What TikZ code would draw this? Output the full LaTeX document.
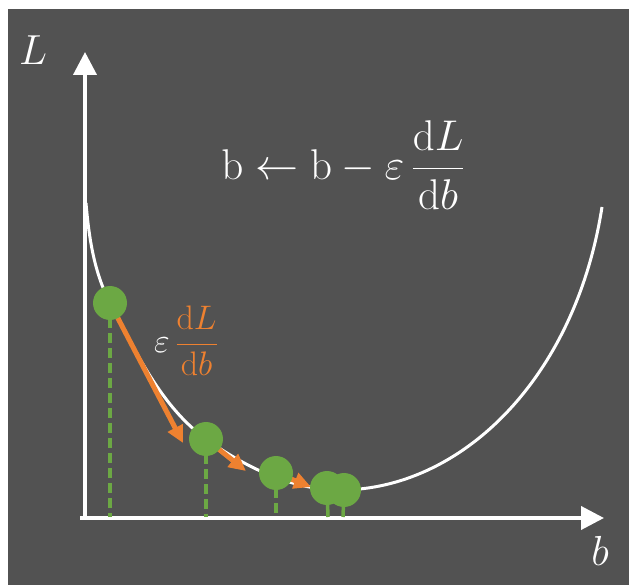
\RequirePackage{fix-cm}
\documentclass[tikz,border=0pt]{standalone}
\usepackage{amsmath}
\usetikzlibrary{arrows.meta}
\definecolor{bgdark}{HTML}{525252}
\definecolor{ballgreen}{HTML}{6CA844}
\definecolor{steporange}{HTML}{EE8130}
\tikzset{
  axisline/.style={white, line width=4pt, -{Triangle[length=23pt,width=23pt]}},
  losscurve/.style={white, line width=3pt},
  ball/.style={circle, fill=ballgreen, minimum size=34pt, inner sep=0pt},
  dropline/.style={ballgreen, line width=3.5pt, dash pattern=on 10pt off 5pt},
  stepline/.style={steporange, line width=5pt, -{Triangle[length=17pt,width=16pt]}},
  lbl/.style={white, inner sep=0pt}
}
\begin{document}
\begin{tikzpicture}[x=1pt,y=-1pt]
\useasboundingbox (0,0) rectangle (638,585);
\fill[white] (0,0) rectangle (638,585);
\fill[bgdark] (8,9) rectangle (629,585);

% axes
\coordinate (o) at (85,518);
\coordinate (yend) at (85,52);
\coordinate (xstart) at (80,518);
\coordinate (xend) at (604,518);
\draw[axisline] (o) -- (yend);
\draw[axisline] (xstart) -- (xend);
\node[lbl, font=\fontsize{42}{44}\selectfont] (Llab) at (33,50) {$L$};
\node[lbl, font=\fontsize{42}{44}\selectfont] (blab) at (600,551) {$b$};

% loss curve
\draw[losscurve] (86,203) .. controls (89,238) and (94,272) .. (110,303)
  .. controls (135.6,351.6) and (161.4,406.9) .. (206,439)
  .. controls (244.9,467) and (292,490) .. (340,490)
  .. controls (460,490) and (575,380) .. (602,207);

% ball centres and feet
\coordinate (c1) at (110,303);
\coordinate (c2) at (206,439);
\coordinate (c3) at (276,473);
\coordinate (c4) at (327,488);
\coordinate (c5) at (344,490);
\coordinate (f1) at (110,517);
\coordinate (f2) at (206,517);
\coordinate (f3) at (276,517);
\coordinate (f4) at (328,517);
\coordinate (f5) at (343,517);
\coordinate (t1) at (183,443);
\coordinate (t2) at (246,471);
\coordinate (t3) at (311,487);

\draw[dropline] (c1) -- (f1);
\draw[dropline] (c2) -- (f2);
\draw[dropline] (c3) -- (f3);
\draw[ballgreen, line width=3.5pt] (c4) -- (f4);
\draw[ballgreen, line width=3.5pt] (c5) -- (f5);

\draw[stepline] (c1) -- (t1);
\draw[stepline] (c2) -- (t2);
\draw[stepline] (c3) -- (t3);

\node[ball] (b1) at (c1) {};
\node[ball] (b2) at (c2) {};
\node[ball] (b3) at (c3) {};
\node[ball] (b4) at (c4) {};
\node[ball] (b5) at (c5) {};

% formulas
\node[lbl, font=\fontsize{43}{46}\selectfont] (rule) at (343,165)
  {$\mathrm{b} \leftarrow \mathrm{b} - \varepsilon\,\dfrac{\mathrm{d}L}{\mathrm{d}b}$};
\node[lbl, font=\fontsize{34}{36}\selectfont] (step) at (186,341)
  {$\varepsilon\,\textcolor{steporange}{\dfrac{\mathrm{d}L}{\mathrm{d}b}}$};
\end{tikzpicture}
\end{document}
